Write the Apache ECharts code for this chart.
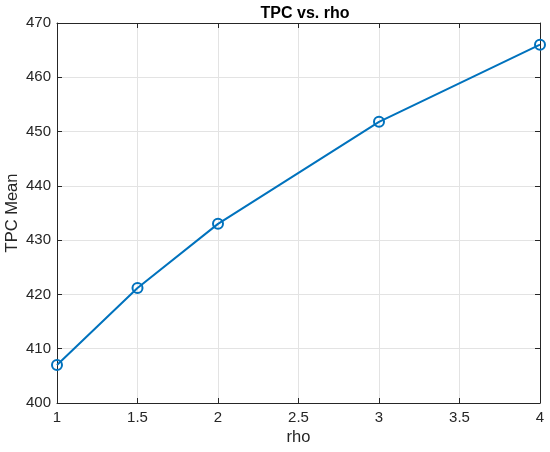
<!DOCTYPE html>
<html>
<head>
<meta charset="utf-8">
<script src="https://cdn.jsdelivr.net/npm/echarts@6/dist/echarts.min.js"></script>
<style>html,body{margin:0;padding:0;background:#fff;}#c{width:550px;height:452px;}</style>
</head>
<body>
<div id="c"></div>
<script>
const rho = [1, 1.5, 2, 3, 4];
const tpcMean = [407.0, 421.2, 433.0, 451.8, 466.0];
const xTicks = [1, 1.5, 2, 2.5, 3, 3.5, 4];
const yTicks = [400, 410, 420, 430, 440, 450, 460, 470];

const chart = echarts.init(document.getElementById('c'), null, {renderer: 'canvas'});
const axisColor = '#262626';
const font = 'Liberation Sans, Arial, Helvetica, sans-serif';
const fmtX = v => xTicks.includes(v) ? String(v) : '';
const baseX = {
  type: 'value', min: xTicks[0], max: xTicks[xTicks.length-1], interval: 0.5,
  axisLine: {show: true, onZero: false, lineStyle: {color: axisColor, width: 1}},
  axisTick: {show: true, inside: true, length: 5, lineStyle: {color: axisColor}},
  splitLine: {show: false}
};
const baseY = {
  type: 'value', min: yTicks[0], max: yTicks[yTicks.length-1], interval: 10,
  axisLine: {show: true, onZero: false, lineStyle: {color: axisColor, width: 1}},
  axisTick: {show: true, inside: true, length: 5, lineStyle: {color: axisColor}},
  splitLine: {show: false}
};
chart.setOption({
  animation: false,
  backgroundColor: '#ffffff',
  title: {
    text: 'TPC vs. rho', left: 300, top: 1, textAlign: 'center',
    textStyle: {fontFamily: font, fontSize: 16, fontWeight: 'bold', color: '#000'}
  },
  grid: {left: 57, right: 10, top: 23, bottom: 49, containLabel: false, outerBoundsMode: 'none'},
  xAxis: [
    Object.assign({}, baseX, {
      position: 'bottom',
      name: 'rho', nameLocation: 'middle', nameGap: 26, nameMoveOverlap: false,
      nameTextStyle: {fontFamily: font, fontSize: 16.5, color: axisColor},
      axisLabel: {show: true, formatter: fmtX, fontFamily: font, fontSize: 15, color: axisColor, margin: 7},
      splitLine: {show: true, lineStyle: {color: '#e3e3e3', width: 1}}
    }),
    Object.assign({}, baseX, {position: 'top', axisLabel: {show: false}})
  ],
  yAxis: [
    Object.assign({}, baseY, {
      position: 'left',
      name: 'TPC Mean', nameLocation: 'middle', nameGap: 36, nameRotate: 90, nameMoveOverlap: false,
      nameTextStyle: {fontFamily: font, fontSize: 16.5, color: axisColor},
      axisLabel: {show: true, fontFamily: font, fontSize: 15, color: axisColor, margin: 6},
      splitLine: {show: true, lineStyle: {color: '#e3e3e3', width: 1}}
    }),
    Object.assign({}, baseY, {position: 'right', axisLabel: {show: false}})
  ],
  series: [{
    type: 'line',
    xAxisIndex: 0, yAxisIndex: 0,
    data: rho.map((x, i) => [x, tpcMean[i]]),
    lineStyle: {color: '#0072BD', width: 2},
    itemStyle: {color: 'rgba(255,255,255,0)', borderColor: '#0072BD', borderWidth: 2},
    symbol: 'circle', symbolSize: 10, showSymbol: true,
    clip: false
  }]
});
</script>
</body>
</html>
